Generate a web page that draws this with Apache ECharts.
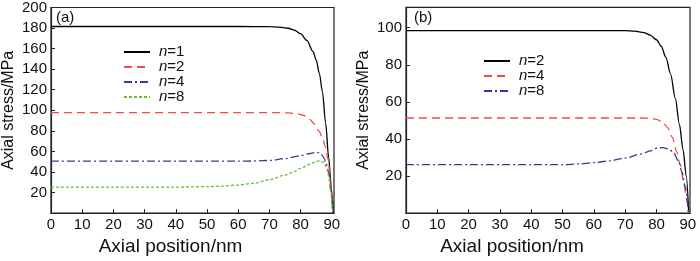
<!DOCTYPE html>
<html>
<head>
<meta charset="utf-8">
<script src="https://cdn.jsdelivr.net/npm/echarts@6/dist/echarts.min.js"></script>
<style>
  html, body { margin: 0; padding: 0; background: #fff; }
  #chart { width: 700px; height: 261px; }
</style>
</head>
<body>
<div id="chart"></div>
<script>
// 读图估值：左图 (a) n=1/2/4/8，右图 (b) n=2/4/8，横轴 轴向位置/nm，纵轴 轴向应力/MPa
const xTicks = [0, 10, 20, 30, 40, 50, 60, 70, 80, 90];
const yTicksA = [20, 40, 60, 80, 100, 120, 140, 160, 180, 200];
const yTicksB = [20, 40, 60, 80, 100];

// (a)
const xA1 = [0, 20, 40, 60, 70, 73, 76, 78, 80, 82, 84, 85, 86, 87, 88, 89, 89.8, 90.5];
const yA1 = [181.5, 181.5, 181.5, 181.5, 181.4, 181, 179.8, 178, 174.5, 168, 157, 149, 136, 118, 88, 54, 24, 0];
const xA2 = [0, 20, 40, 60, 72, 76, 79, 81, 83, 84.5, 86, 87, 88, 88.8, 89.5, 90.3];
const yA2 = [97.8, 97.8, 97.8, 97.8, 97.8, 97.4, 96.6, 95, 91, 86.5, 79.5, 73, 64, 52, 35, 0];
const xA4 = [0, 20, 40, 60, 65, 70, 75, 80, 83, 85, 86.3, 87.3, 88.2, 89, 89.7, 90.3];
const yA4 = [50.5, 50.5, 50.5, 50.5, 50.7, 51.2, 53, 55.8, 58, 59.2, 58.5, 54.5, 48, 39, 22, 0];
const xA8 = [0, 20, 40, 50, 55, 60, 65, 70, 75, 78, 80, 83, 85, 86.3, 87.3, 88.2, 89, 89.7, 90.3];
const yA8 = [25.3, 25.3, 25.3, 25.7, 26.3, 27.3, 29, 32.5, 37, 40.5, 43.5, 47.5, 50.3, 51, 49.5, 45, 36, 20, 0];

// (b)
const xB2 = [0, 20, 40, 60, 70, 73, 76, 78, 80, 81.5, 83, 84.5, 86, 87.3, 88.5, 89.5, 90.3];
const yB2 = [98.4, 98.4, 98.4, 98.4, 98.4, 98.1, 97.3, 96, 93.5, 90, 84, 75, 62, 48, 34, 20, 0];
const xB4 = [0, 20, 40, 60, 75, 78, 80, 82, 83.5, 85, 86.5, 87.5, 88.6, 89.6, 90.2];
const yB4 = [51.3, 51.3, 51.3, 51.3, 51.3, 51.1, 50.6, 49, 46.2, 41, 33, 26.5, 17.5, 8, 0];
const xB8 = [0, 20, 40, 50, 55, 60, 65, 70, 75, 78, 80.5, 82, 84, 85.5, 87, 88.2, 89.2, 90.2];
const yB8 = [26.1, 26.1, 26.1, 26.1, 26.5, 27.2, 28.2, 29.7, 31.8, 33.6, 35.2, 35.3, 34.5, 32.5, 28, 22, 14, 0];

function pts(xs, ys) { return xs.map((x, i) => [x, ys[i]]); }

const FONT = '"Liberation Sans", Arial, sans-serif';
const AX = '#222';
const C_BLACK = '#000000', C_RED = '#f24a4a', C_BLUE = '#3a3a96', C_GREEN = '#6abf3a';

function line(name, gi, data, color, type) {
  return {
    name: name, type: 'line', xAxisIndex: gi, yAxisIndex: gi, data: data,
    symbol: 'none', smooth: 0.3, smoothMonotone: 'x', z: 3,
    itemStyle: { color: color },
    lineStyle: { color: color, width: 1.3, type: type }
  };
}

// nameShift：原图横轴标题略偏左，用右侧 padding 推一下
function xAxis(gi, nameShift) {
  return {
    type: 'value', gridIndex: gi, min: 0, max: 90.7,
    name: 'Axial position/nm', nameLocation: 'middle', nameGap: 23,
    nameTextStyle: { fontFamily: FONT, fontSize: 19, color: '#111', padding: [0, nameShift * 2, 0, 0] },
    axisLine: { show: true, lineStyle: { color: AX, width: 1.2 } },
    axisTick: { inside: true, length: 4, customValues: xTicks, lineStyle: { color: AX } },
    axisLabel: { customValues: xTicks, margin: 4, fontFamily: FONT, fontSize: 15, color: '#111' },
    splitLine: { show: false }
  };
}

function yAxis(gi, max, ticks) {
  return {
    type: 'value', gridIndex: gi, min: 0, max: max,
    name: 'Axial stress/MPa', nameLocation: 'middle', nameGap: 34,
    nameTextStyle: { fontFamily: FONT, fontSize: 16, color: '#111' },
    axisLine: { show: true, lineStyle: { color: AX, width: 1.2 } },
    axisTick: { inside: true, length: 4, customValues: ticks, lineStyle: { color: AX } },
    axisLabel: { customValues: ticks, margin: 4, fontFamily: FONT, fontSize: 15, color: '#111' },
    splitLine: { show: false }
  };
}

function legend(left, top, names) {
  return {
    orient: 'vertical', left: left, top: top, data: names, padding: 0,
    itemWidth: 26, itemHeight: 12, itemGap: 0,
    // 线系列图例会自带圆点，这里把它藏掉，只留线段
    itemStyle: { color: 'rgba(0,0,0,0)', borderColor: 'rgba(0,0,0,0)', borderWidth: 0, opacity: 0 },
    formatter: n => '{i|n}=' + n.split('=')[1],
    textStyle: {
      fontFamily: FONT, fontSize: 15, lineHeight: 15, color: '#111', padding: [0, 0, 0, 4],
      rich: { i: { fontFamily: FONT, fontSize: 15, lineHeight: 15, fontStyle: 'italic', color: '#111' } }
    }
  };
}

const chart = echarts.init(document.getElementById('chart'), null, { renderer: 'canvas' });
chart.setOption({
  animation: false,
  backgroundColor: '#fff',
  title: [
    { text: '(a)', left: 51, top: 5, textStyle: { fontFamily: FONT, fontSize: 15, fontWeight: 'normal', color: '#111' } },
    { text: '(b)', left: 409, top: 5, textStyle: { fontFamily: FONT, fontSize: 15, fontWeight: 'normal', color: '#111' } }
  ],
  grid: [
    { left: 49.4, right: 366, top: 7.3, bottom: 37.3, show: true, borderColor: AX, borderWidth: 1.2, backgroundColor: 'transparent' },
    { left: 406, right: 10, top: 7.3, bottom: 37.3, show: true, borderColor: AX, borderWidth: 1.2, backgroundColor: 'transparent' }
  ],
  legend: [
    legend(123, 44.5, ['a:n=1', 'a:n=2', 'a:n=4', 'a:n=8']),
    legend(483, 53.5, ['b:n=2', 'b:n=4', 'b:n=8'])
  ],
  xAxis: [xAxis(0, 22), xAxis(1, 36)],
  yAxis: [yAxis(0, 200, yTicksA), yAxis(1, 111, yTicksB)],
  series: [
    line('a:n=1', 0, pts(xA1, yA1), C_BLACK, 'solid'),
    line('a:n=2', 0, pts(xA2, yA2), C_RED, [8, 5]),
    line('a:n=4', 0, pts(xA4, yA4), C_BLUE, [8, 3, 2, 3]),
    line('a:n=8', 0, pts(xA8, yA8), C_GREEN, [3, 2]),
    line('b:n=2', 1, pts(xB2, yB2), C_BLACK, 'solid'),
    line('b:n=4', 1, pts(xB4, yB4), C_RED, [8, 5]),
    line('b:n=8', 1, pts(xB8, yB8), C_BLUE, [8, 3, 2, 3])
  ]
});
</script>
</body>
</html>
